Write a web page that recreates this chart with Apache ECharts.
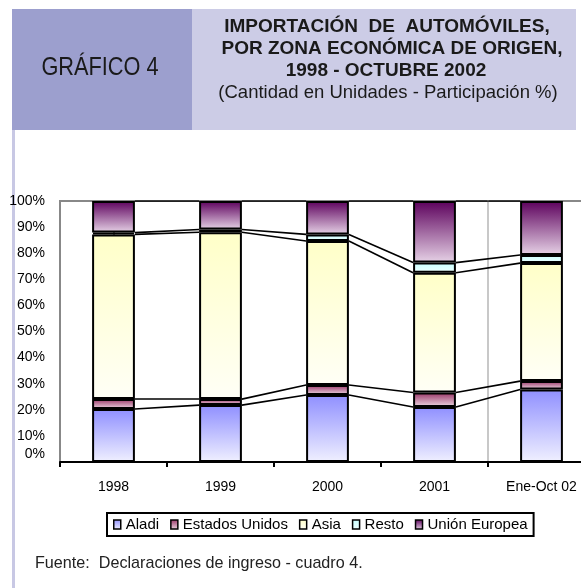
<!DOCTYPE html>
<html><head><meta charset="utf-8">
<script src="https://cdn.jsdelivr.net/npm/echarts@6/dist/echarts.min.js"></script>
<style>html,body{margin:0;padding:0;background:#fff}#c{width:581px;height:588px}</style>
</head><body><div id="c"></div>
<script>
const categories = ['1998', '1999', '2000', '2001', 'Ene-Oct 02'];
const aladi = [20.3, 21.8, 25.7, 21.1, 27.8];
const eeuu = [3.8, 2.3, 3.8, 5.5, 3.2];
const asia = [63.1, 63.9, 55.2, 45.9, 45.2];
const resto = [0.7, 1.1, 2.5, 3.9, 3.1];
const ue = [12.1, 10.9, 12.8, 23.6, 20.7];
const seriesNames = ['Aladi', 'Estados Unidos', 'Asia', 'Resto', 'Unión Europea'];
const yTicks = [0, 10, 20, 30, 40, 50, 60, 70, 80, 90, 100];

const values = [aladi, eeuu, asia, resto, ue];
const grads = [
  ['#8f8fff', '#f0f0ff'],
  ['#993366', '#ecd9e3'],
  ['#ffffc8', '#fffff6'],
  ['#c8ffff', '#eeffff'],
  ['#5c005c', '#e6d2e6']
];
function grad(c) {
  return {type: 'linear', x: 0, y: 0, x2: 0, y2: 1, colorStops: [{offset: 0, color: c[0]}, {offset: 1, color: c[1]}]};
}
const cum = [];
let run = categories.map(() => 0);
values.forEach(v => { run = run.map((r, i) => r + v[i]); cum.push(run.slice()); });
const half = 0.2;
const lineData = [];
cum.forEach(b => {
  for (let i = 0; i < categories.length - 1; i++) {
    lineData.push({coords: [[i + half, b[i]], [i + 1 - half, b[i + 1]]]});
  }
});

const ARIAL = '"Liberation Sans", Arial, sans-serif';

const chart = echarts.init(document.getElementById('c'), null, {renderer: 'canvas'});
const series = seriesNames.map((n, k) => ({
  name: n, type: 'bar', stack: 'all', barWidth: '40%',
  xAxisIndex: 0, yAxisIndex: 0,
  data: values[k],
  itemStyle: {color: grad(grads[k]), borderColor: '#000', borderWidth: 2},
  emphasis: {disabled: true}
}));
series.push({
  type: 'lines', coordinateSystem: 'cartesian2d', xAxisIndex: 1, yAxisIndex: 0,
  data: lineData, polyline: false, silent: true,
  lineStyle: {color: '#000', width: 1.6, opacity: 1}, z: 1
});
series.push({
  type: 'line', xAxisIndex: 1, yAxisIndex: 0, showSymbol: false, silent: true,
  data: [[3.5, 0], [3.5, 101]], lineStyle: {color: '#c8c8c8', width: 2}, z: 0
});

chart.setOption({
  animation: false,
  backgroundColor: '#fff',
  grid: {left: 60, top: 201, width: 535, height: 261, show: true, borderColor: '#888', borderWidth: 2,
         backgroundColor: 'transparent', outerBoundsMode: 'none', containLabel: false},
  xAxis: [{
    type: 'category', data: categories, boundaryGap: true,
    axisLine: {lineStyle: {color: '#000', width: 2}},
    axisTick: {show: true, length: 5, lineStyle: {color: '#000', width: 2}},
    axisLabel: {fontFamily: ARIAL, fontSize: 14, color: '#000', margin: 18},
    splitLine: {show: false}, z: 5
  }, {
    type: 'value', min: -0.5, max: 4.5, show: false
  }],
  yAxis: {
    type: 'value', min: 0, max: 100, interval: 10,
    axisLine: {show: true, lineStyle: {color: '#888', width: 2}},
    axisTick: {show: false},
    splitLine: {show: false},
    axisLabel: {fontFamily: ARIAL, fontSize: 14, color: '#000', margin: 15,
      formatter: v => yTicks.includes(v) ? (v === 0 ? '{z|0%}' : v + '%') : '',
      rich: {z: {fontFamily: ARIAL, fontSize: 14, color: '#000', padding: [0, 0, 16, 0]}}}
  },
  legend: {
    data: seriesNames, left: 107, top: 513, orient: 'horizontal',
    itemWidth: 7, itemHeight: 9, itemGap: 11, icon: 'rect',
    borderColor: '#000', borderWidth: 2, padding: [4, 6],
    itemStyle: {borderColor: '#000', borderWidth: 1.5},
    textStyle: {fontFamily: ARIAL, fontSize: 15, color: '#000', padding: [0, 0, 0, 0]},
    selectedMode: false
  },
  graphic: [
    {type: 'rect', left: 12, top: 9, shape: {width: 180, height: 121}, style: {fill: '#9c9fce'}, silent: true},
    {type: 'rect', left: 192, top: 9, shape: {width: 384, height: 121}, style: {fill: '#cccce6'}, silent: true},
    {type: 'rect', left: 12, top: 130, shape: {width: 3, height: 458}, style: {fill: '#c8c8e4'}, silent: true},
    {type: 'text', x: 100, y: 68, scaleX: 0.87, style: {text: 'GRÁFICO 4', font: '25px ' + ARIAL, fill: '#1a1a1a', textAlign: 'center', textVerticalAlign: 'middle'}},
    {type: 'text', x: 387, y: 27, style: {text: 'IMPORTACIÓN  DE  AUTOMÓVILES,', font: 'bold 19px ' + ARIAL, fill: '#1a1a1a', textAlign: 'center', textVerticalAlign: 'middle'}},
    {type: 'text', x: 392, y: 49, style: {text: 'POR ZONA ECONÓMICA DE ORIGEN,', font: 'bold 19px ' + ARIAL, fill: '#1a1a1a', textAlign: 'center', textVerticalAlign: 'middle'}},
    {type: 'text', x: 386, y: 71, style: {text: '1998 - OCTUBRE 2002', font: 'bold 19px ' + ARIAL, fill: '#1a1a1a', textAlign: 'center', textVerticalAlign: 'middle'}},
    {type: 'text', x: 388, y: 93, style: {text: '(Cantidad en Unidades - Participación %)', font: '18.5px ' + ARIAL, fill: '#1a1a1a', textAlign: 'center', textVerticalAlign: 'middle'}},
    {type: 'text', x: 35, y: 563, scaleX: 0.95, style: {text: 'Fuente:  Declaraciones de ingreso - cuadro 4.', font: '17px ' + ARIAL, fill: '#222', textAlign: 'left', textVerticalAlign: 'middle'}}
  ],
  series: series
});
</script></body></html>
